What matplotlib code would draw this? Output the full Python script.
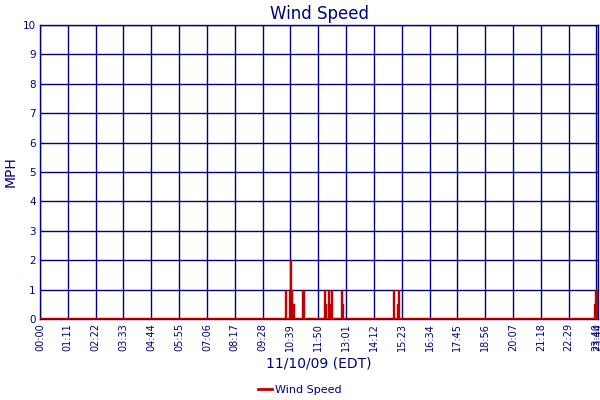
import matplotlib
matplotlib.use("Agg")
import matplotlib.pyplot as plt
from matplotlib.lines import Line2D

# breakpoints (minutes since midnight) and wind speed (MPH), step-wise
minutes = [0, 625, 629, 635, 638, 641, 644, 647, 668, 669, 673, 725, 727, 730,
           734, 738, 740, 743, 745, 768, 771, 773, 901, 903, 911, 914, 916,
           1414, 1416, 1419, 1421, 1422, 1424]
speeds = [0, 1, 0, 1, 2, 1, 0.5, 0, 0.5, 1, 0, 1, 0.5, 0,
          1, 0, 0.5, 1, 0, 1, 0.5, 0, 1, 0, 0.5, 1, 0,
          0.5, 1, 0, 0.5, 1, 1]

tick_minutes = list(range(0, 1421, 71)) + [1424]
tick_labels = [f"{m // 60:02d}:{m % 60:02d}" for m in tick_minutes]
y_ticks = list(range(0, 11))

navy = "#000080"
red = "#c00000"

fig = plt.figure(figsize=(6, 4), dpi=100)
ax = fig.add_axes([40 / 600, 1 - 319 / 400, 558 / 600, 294 / 400])

ax.set_xlim(0, 1424)
ax.set_ylim(0, 10)
ax.set_xticks(tick_minutes)
ax.set_xticklabels(tick_labels, rotation=90, fontsize=7, color=navy)
ax.set_yticks(y_ticks)
ax.set_yticklabels([str(v) for v in y_ticks], fontsize=7.5, color=navy)
ax.tick_params(length=0, pad=3)
ax.grid(True, color=navy, linewidth=1)
ax.set_axisbelow(True)
for s in ax.spines.values():
    s.set_color(navy)
    s.set_linewidth(1)

ax.fill_between(minutes, speeds, 0, step="post", color=red, linewidth=0, zorder=3)
ax.step(minutes, speeds, where="post", color=red, linewidth=1, zorder=3)
ax.axhline(0, color=red, linewidth=2.5, zorder=4)

ax.set_title("Wind Speed", fontsize=12, color=navy, pad=4)
ax.set_ylabel("MPH", fontsize=10, color=navy, labelpad=4)
ax.set_xlabel("11/10/09 (EDT)", fontsize=10, color=navy, labelpad=4)

handle = Line2D([], [], color=red, linewidth=2)
fig.legend([handle], ["Wind Speed"], loc="center", bbox_to_anchor=(0.5, 1 - 390 / 400),
           frameon=False, fontsize=8, labelcolor=navy, handlelength=1.2, handletextpad=0.3)

fig.savefig("out.png", dpi=100)
